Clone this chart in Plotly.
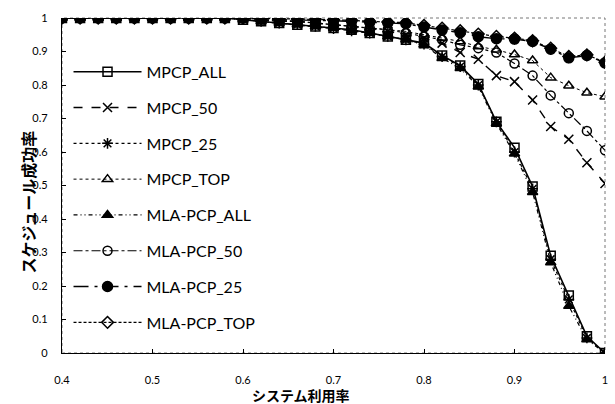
import plotly.graph_objects as go

x_vals = [round(0.40 + 0.02 * i, 2) for i in range(31)]

mpcp_all = [1]*10 + [0.995, 0.99, 0.985, 0.98, 0.975, 0.97, 0.965, 0.955, 0.945, 0.935, 0.925,
                     0.888, 0.858, 0.803, 0.69, 0.613, 0.497, 0.29, 0.172, 0.05, 0.0]
mpcp_50 = [1]*10 + [1, 0.995, 0.99, 0.99, 0.985, 0.98, 0.975, 0.97, 0.96, 0.95, 0.94,
                    0.925, 0.897, 0.877, 0.828, 0.81, 0.755, 0.676, 0.638, 0.568, 0.506]
mpcp_25 = [1]*10 + [0.995, 0.99, 0.985, 0.98, 0.975, 0.968, 0.962, 0.955, 0.945, 0.935, 0.922,
                    0.885, 0.855, 0.80, 0.69, 0.60, 0.49, 0.28, 0.16, 0.045, 0.0]
mpcp_top = [1]*10 + [1, 0.995, 0.995, 0.99, 0.985, 0.98, 0.975, 0.97, 0.965, 0.96, 0.95,
                     0.94, 0.93, 0.915, 0.905, 0.891, 0.873, 0.822, 0.798, 0.777, 0.765]
mla_all = [1]*10 + [0.995, 0.99, 0.985, 0.98, 0.975, 0.97, 0.962, 0.955, 0.945, 0.935, 0.92,
                    0.88, 0.85, 0.795, 0.685, 0.595, 0.48, 0.27, 0.14, 0.04, 0.0]
mla_50 = [1]*10 + [1, 0.995, 0.99, 0.99, 0.985, 0.98, 0.975, 0.97, 0.965, 0.955, 0.945,
                   0.935, 0.92, 0.91, 0.897, 0.864, 0.828, 0.769, 0.716, 0.663, 0.605]
mla_25 = [1]*10 + [1, 1, 0.995, 0.995, 0.993, 0.992, 0.99, 0.987, 0.985, 0.983, 0.973,
                   0.964, 0.956, 0.944, 0.938, 0.937, 0.93, 0.907, 0.881, 0.888, 0.866]
mla_top = [1]*10 + [1, 1, 0.998, 0.997, 0.996, 0.995, 0.993, 0.99, 0.988, 0.986, 0.978,
                    0.97, 0.962, 0.952, 0.945, 0.94, 0.932, 0.91, 0.885, 0.89, 0.868]

series_names = ["MPCP_ALL", "MPCP_50", "MPCP_25", "MPCP_TOP",
                "MLA-PCP_ALL", "MLA-PCP_50", "MLA-PCP_25", "MLA-PCP_TOP"]
series_vals = [mpcp_all, mpcp_50, mpcp_25, mpcp_top, mla_all, mla_50, mla_25, mla_top]

x_ticks = [0.4, 0.5, 0.6, 0.7, 0.8, 0.9, 1.0]
x_tick_labels = ["0.4", "0.5", "0.6", "0.7", "0.8", "0.9", "1"]
y_ticks = [0, 0.1, 0.2, 0.3, 0.4, 0.5, 0.6, 0.7, 0.8, 0.9, 1.0]
y_tick_labels = ["0", "0.1", "0.2", "0.3", "0.4", "0.5", "0.6", "0.7", "0.8", "0.9", "1"]

styles = [
    dict(dash="solid", symbol="square-open", size=9),
    dict(dash="dash", symbol="x-thin-open", size=9),
    dict(dash="dot", symbol="asterisk-open", size=9),
    dict(dash="dot", symbol="triangle-up-open", size=9),
    dict(dash="4px,3px,1px,3px,1px,3px", symbol="triangle-up", size=9),
    dict(dash="dashdot", symbol="circle-open", size=9),
    dict(dash="longdashdot", symbol="circle", size=10),
    dict(dash="3px,2px", symbol="diamond-open", size=9),
]
widths = [1.6, 1.4, 1.2, 1.0, 1.2, 1.2, 1.4, 1.2]

fig = go.Figure()
for i, (name, vals, st) in enumerate(zip(series_names, series_vals, styles)):
    fig.add_trace(go.Scatter(
        x=x_vals, y=vals, name=name, mode="lines+markers",
        legendgroup=name,
        line=dict(color="black", width=widths[i], dash=st["dash"]),
        marker=dict(symbol=st["symbol"], size=st["size"], color="black",
                    line=dict(color="black", width=1.5)),
    ))

fig.add_shape(type="rect", xref="paper", yref="paper", x0=0, x1=1, y0=0, y1=1,
              line=dict(color="#777", width=1, dash="dot"), layer="below")

fig.update_layout(
    width=615, height=404,
    margin=dict(l=62, r=10, t=18, b=51, autoexpand=False),
    paper_bgcolor="white", plot_bgcolor="white",
    font=dict(family="Lato, Open Sans, sans-serif", color="black"),
    showlegend=True,
    legend=dict(x=0.012, y=0.89, xanchor="left", yanchor="top",
                bgcolor="rgba(0,0,0,0)", font=dict(size=16, color="black"),
                tracegroupgap=12, traceorder="grouped", itemwidth=68),
    xaxis=dict(range=[0.4, 1.0], tickvals=x_ticks, ticktext=x_tick_labels,
               showgrid=False, zeroline=False, showline=True, linecolor="black",
               linewidth=1.2, ticks="inside", ticklen=4, tickcolor="black",
               tickfont=dict(size=11), ticklabelstandoff=17, automargin=False),
    yaxis=dict(range=[0, 1.0], tickvals=y_ticks, ticktext=y_tick_labels,
               showgrid=False, zeroline=False, showline=True, linecolor="black",
               linewidth=1.2, ticks="inside", ticklen=4, tickcolor="black",
               tickfont=dict(size=11), ticklabelstandoff=11, automargin=False),
    annotations=[
        dict(text="<b>システム利用率</b>", xref="paper", yref="paper",
             x=0.44, y=-0.125, xanchor="center", yanchor="middle", showarrow=False,
             font=dict(family="Noto Sans CJK JP", size=14, color="black")),
        dict(text="<b>スケジュール成功率</b>", xref="paper", yref="paper",
             x=-0.062, y=0.45, xanchor="center", yanchor="middle", showarrow=False,
             textangle=-90,
             font=dict(family="Noto Sans CJK JP", size=16, color="black")),
    ],
)

fig.write_html("out.html", config={"displayModeBar": False},
               post_script="document.body.style.margin='0';document.body.style.overflow='hidden';")
